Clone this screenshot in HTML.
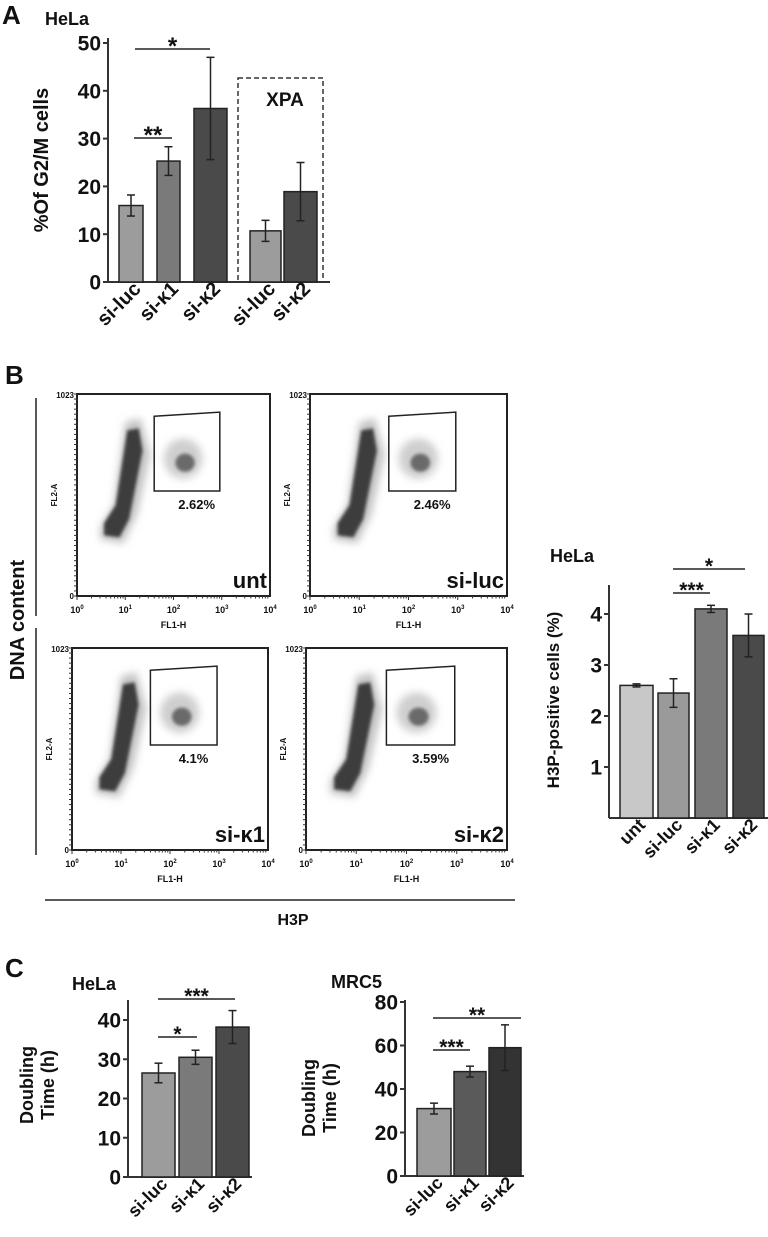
<!DOCTYPE html>
<html><head><meta charset="utf-8"><style>
html,body{margin:0;padding:0;background:#fff}
svg{display:block;font-family:"Liberation Sans",Arial,sans-serif}
text{font-weight:bold;fill:#111}
</style></head><body>
<svg id="fig" width="768" height="1237" viewBox="0 0 768 1237" xmlns="http://www.w3.org/2000/svg">
<defs><filter id="blur" x="-50%" y="-50%" width="200%" height="200%"><feGaussianBlur stdDeviation="1.5"/></filter>
<filter id="blur2" x="-50%" y="-50%" width="200%" height="200%"><feGaussianBlur stdDeviation="4"/></filter></defs>
<text x="2" y="24" font-size="26">A</text>
<text x="45" y="25" font-size="18">HeLa</text>
<text x="0" y="0" font-size="20" text-anchor="middle" transform="translate(48,160) rotate(-90)">%Of G2/M cells</text>
<rect x="238" y="78" width="85" height="204" fill="none" stroke="#333" stroke-width="1.5" stroke-dasharray="5,3"/>
<text x="285" y="106" font-size="19" text-anchor="middle">XPA</text>
<text x="5" y="977" font-size="26">C</text>
<text x="5" y="384" font-size="26">B</text>
<text x="0" y="0" font-size="20" text-anchor="middle" transform="translate(24,620) rotate(-90)">DNA content</text>
<line x1="36" y1="398" x2="36" y2="616" stroke="#222" stroke-width="1.5"/>
<line x1="36" y1="628" x2="36" y2="855" stroke="#222" stroke-width="1.5"/>
<line x1="45" y1="900" x2="515" y2="900" stroke="#222" stroke-width="1.5"/>
<text x="293" y="925" font-size="16" text-anchor="middle">H3P</text>
<g id="root"></g>
</svg>
<script>
// Panel A data
const aCats = ["si-luc","si-κ1","si-κ2","si-luc","si-κ2"];
const aVals = [16, 25.3, 36.3, 10.7, 18.9];
const aErrs = [2.2, 3.0, 10.7, 2.2, 6.1];
const aTicks = [0,10,20,30,40,50];
// Panel B bar data
const bCats = ["unt","si-luc","si-κ1","si-κ2"];
const bVals = [2.6, 2.45, 4.1, 3.58];
const bErrs = [0.03, 0.28, 0.07, 0.42];
const bTicks = [1,2,3,4];
// Flow plot data
const flowNames = ["unt","si-luc","si-κ1","si-κ2"];
const flowPct = ["2.62%","2.46%","4.1%","3.59%"];
// Panel C HeLa
const cHCats = ["si-luc","si-κ1","si-κ2"];
const cHVals = [26.5, 30.5, 38.2];
const cHErrs = [2.5, 1.8, 4.2];
const cHTicks = [0,10,20,30,40];
// Panel C MRC5
const cMCats = ["si-luc","si-κ1","si-κ2"];
const cMVals = [31, 48, 59];
const cMErrs = [2.5, 2.5, 10.5];
const cMTicks = [0,20,40,60,80];

const NS="http://www.w3.org/2000/svg";
const root=document.getElementById('root');
function el(tag,attrs,parent,txt){const e=document.createElementNS(NS,tag);for(const k in attrs)e.setAttribute(k,attrs[k]);if(txt!==undefined)e.textContent=txt;(parent||root).appendChild(e);return e;}

function barChart(o){
  const g=el('g',{});
  
  
  const y=v=>o.y0-(v-o.vmin)/(o.vmax-o.vmin)*(o.y0-o.yTop);
  el('line',{x1:o.ax,y1:o.axTop,x2:o.ax,y2:o.y0,stroke:'#333','stroke-width':2},g);
  el('line',{x1:o.ax,y1:o.y0,x2:o.axRight,y2:o.y0,stroke:'#333','stroke-width':2},g);
  o.ticks.forEach(t=>{
    el('line',{x1:o.ax-5,y1:y(t),x2:o.ax,y2:y(t),stroke:'#333','stroke-width':2},g);
    const tx=el('text',{x:o.ax-7,y:y(t)+o.fs*0.36,'font-size':o.fs,'text-anchor':'end'},g,String(t));
    
    
  });
  o.vals.forEach((v,i)=>{
    const x=o.xs[i], w=o.ws[i];
    const r=el('rect',{x:x,y:y(v),width:w,height:o.y0-y(v),fill:o.colors[i],stroke:'#222','stroke-width':1.5},g);
    
    
    const cx=x+w/2;
    const e=o.errs[i];
    el('line',{x1:cx,y1:y(v+e),x2:cx,y2:y(v-e),stroke:'#222','stroke-width':1.5},g);
    el('line',{x1:cx-4,y1:y(v+e),x2:cx+4,y2:y(v+e),stroke:'#222','stroke-width':1.5},g);
    el('line',{x1:cx-4,y1:y(v-e),x2:cx+4,y2:y(v-e),stroke:'#222','stroke-width':1.5},g);
    const lb=el('text',{x:0,y:0,'font-size':o.lfs,'text-anchor':'end',transform:`translate(${cx+o.lfs*0.55},${o.y0+8}) rotate(-45)`},g,o.cats[i]);
    
    
  });
  (o.sig||[]).forEach(s=>{
    el('line',{x1:s[0],y1:s[2],x2:s[1],y2:s[2],stroke:'#222','stroke-width':1.5},g);
    const st=el('text',{x:(s[0]+s[1])/2,y:s[2]+o.sfs*0.2,'font-size':o.sfs,'text-anchor':'middle'},g,s[3]);
    
    
  });
}

barChart({name:'panel-a-chart',ax:108,axTop:38,axRight:330,y0:282,yTop:43,vmin:0,vmax:50,ticks:aTicks,fs:21,lfs:20,sfs:24,
  vals:aVals,errs:aErrs,cats:aCats,xs:[119,157,194,250,284],ws:[24,23,33,31,33],
  colors:['#9c9c9c','#7a7a7a','#4a4a4a','#9c9c9c','#4a4a4a'],
  sig:[[135,210,49,'*'],[134,172,138,'**']]});

// Panel B bar
el('text',{x:550,y:562,'font-size':18},root,'HeLa');
el('text',{x:0,y:0,'font-size':17,'text-anchor':'middle',transform:'translate(559,700) rotate(-90)'},root,'H3P-positive cells (%)');
barChart({name:'panel-b-chart',ax:609,axTop:585,axRight:768,y0:818,yTop:614,vmin:0,vmax:4,ticks:bTicks,fs:21,lfs:18,sfs:21,
  vals:bVals,errs:bErrs,cats:bCats,xs:[620,658,695,733],ws:[33,31,32,31],
  colors:['#c8c8c8','#9a9a9a','#7a7a7a','#4a4a4a'],
  sig:[[673,710,593,'***'],[673,745,569,'*']]});

// Panel C
el('text',{x:72,y:990,'font-size':18},root,'HeLa');
el('text',{x:0,y:0,'font-size':18,'text-anchor':'middle',transform:'translate(33,1085) rotate(-90)'},root,'Doubling');
el('text',{x:0,y:0,'font-size':18,'text-anchor':'middle',transform:'translate(54,1085) rotate(-90)'},root,'Time (h)');
barChart({name:'panel-c-hela-chart',ax:128,axTop:1000,axRight:252,y0:1177,yTop:1020,vmin:0,vmax:40,ticks:cHTicks,fs:21,lfs:18,sfs:21,
  vals:cHVals,errs:cHErrs,cats:cHCats,xs:[142,179,216],ws:[33,33,33],
  colors:['#9c9c9c','#7a7a7a','#4a4a4a'],
  sig:[[158,235,999,'***'],[158,197,1037,'*']]});
el('text',{x:331,y:988,'font-size':18},root,'MRC5');
el('text',{x:0,y:0,'font-size':18,'text-anchor':'middle',transform:'translate(315,1098) rotate(-90)'},root,'Doubling');
el('text',{x:0,y:0,'font-size':18,'text-anchor':'middle',transform:'translate(336,1098) rotate(-90)'},root,'Time (h)');
barChart({name:'panel-c-mrc5-chart',ax:405,axTop:1000,axRight:524,y0:1176,yTop:1002,vmin:0,vmax:80,ticks:cMTicks,fs:21,lfs:18,sfs:21,
  vals:cMVals,errs:cMErrs,cats:cMCats,xs:[417,454,489],ws:[34,32,32],
  colors:['#9c9c9c','#5a5a5a','#333333'],
  sig:[[433,521,1018,'**'],[433,470,1050,'***']]});

// Flow plots
const boxes=[[77,394,270,596],[310,394,507,596],[72,648,268,850],[306,648,507,850]];
boxes.forEach((b,i)=>{
  const [x0,y0,x1,y1]=b;const W=x1-x0,H=y1-y0;
  const g=el('g',{});
  
  
  const px=f=>x0+f*W, py=f=>y0+f*H;
  // main population halo
  el('polygon',{points:`${px(.12)},${py(.72)} ${px(.24)},${py(.74)} ${px(.31)},${py(.60)} ${px(.38)},${py(.30)} ${px(.33)},${py(.12)} ${px(.25)},${py(.14)} ${px(.19)},${py(.55)} ${px(.12)},${py(.66)}`,fill:'#c4c4c4',filter:'url(#blur2)'},g);
  // dense band
  el('polygon',{points:`${px(.14)},${py(.70)} ${px(.22)},${py(.71)} ${px(.27)},${py(.62)} ${px(.34)},${py(.28)} ${px(.32)},${py(.17)} ${px(.26)},${py(.18)} ${px(.20)},${py(.55)} ${px(.14)},${py(.64)}`,fill:'#3c3c3c',filter:'url(#blur)'},g);
  // gated cluster
  el('ellipse',{cx:px(.55),cy:py(.32),rx:W*.1,ry:H*.1,fill:'#cfcfcf',filter:'url(#blur2)'},g);
  el('ellipse',{cx:px(.56),cy:py(.34),rx:W*.05,ry:H*.045,fill:'#6a6a6a',filter:'url(#blur)'},g);
  el('rect',{x:x0,y:y0,width:W,height:H,fill:'none',stroke:'#222','stroke-width':2},g);
  // gate
  el('polygon',{points:`${px(.40)},${py(.11)} ${px(.74)},${py(.09)} ${px(.74)},${py(.48)} ${px(.40)},${py(.48)}`,fill:'none',stroke:'#222','stroke-width':1.5},g);
  const pt=el('text',{x:px(.62),y:py(.57),'font-size':13,'text-anchor':'middle'},g,flowPct[i]);
  
  
  const nm=el('text',{x:x1-3,y:y1-8,'font-size':22,'text-anchor':'end'},g,flowNames[i]);
  
  
  for(let k=0;k<=40;k++){el('line',{x1:x0-3,y1:y0+k*H/40,x2:x0,y2:y0+k*H/40,stroke:'#333','stroke-width':1},g);}
  for(let d=0;d<4;d++){for(let m=1;m<=9;m++){const xx=x0+(d+Math.log10(m))*W/4;el('line',{x1:xx,y1:y1,x2:xx,y2:y1+(m==1?4:2.5),stroke:'#333','stroke-width':1},g);}}
  el('text',{x:x0-3,y:y0+4,'font-size':8,'text-anchor':'end'},g,'1023');
  el('text',{x:x0-3,y:y1+3,'font-size':8,'text-anchor':'end'},g,'0');
  el('text',{x:0,y:0,'font-size':8,'text-anchor':'middle',transform:`translate(${x0-20},${py(.5)}) rotate(-90)`},g,'FL2-A');
  for(let d=0;d<=4;d++){const t=el('text',{x:x0+d*W/4,y:y1+17,'font-size':9,'text-anchor':'middle'},g,'10');el('tspan',{'font-size':6,dy:-4},t,String(d));}
  el('text',{x:px(.5),y:y1+32,'font-size':9,'text-anchor':'middle'},g,'FL1-H');
});
</script>
</body></html>
